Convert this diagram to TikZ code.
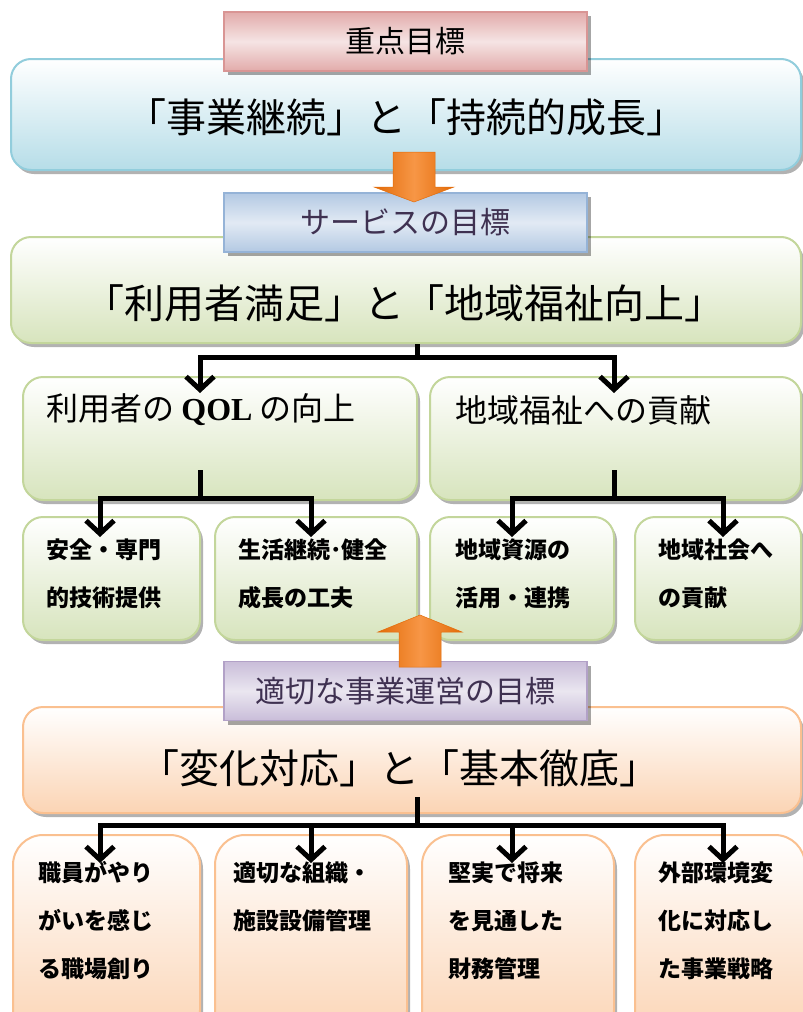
\documentclass[tikz,border=0pt]{standalone}
\usepackage{fontspec}
\setmainfont{Noto Sans CJK JP}
\newfontfamily\latinserif{Liberation Serif}
\usetikzlibrary{arrows.meta,shadows}

\definecolor{pinkbd}{HTML}{D99594}
\definecolor{pinkdk}{HTML}{E2ABAA}
\definecolor{pinklt}{HTML}{F5E4E4}
\definecolor{bluebd}{HTML}{95B3D7}
\definecolor{bluedk}{HTML}{B3C9E3}
\definecolor{bluelt}{HTML}{E2EAF4}
\definecolor{purpbd}{HTML}{B2A1C7}
\definecolor{purpdk}{HTML}{C9BDD9}
\definecolor{purplt}{HTML}{EAE6F0}
\definecolor{titleink}{HTML}{3F3151}
\definecolor{skybd}{HTML}{92CDDC}
\definecolor{skyfill}{HTML}{B6DDE8}
\definecolor{greenbd}{HTML}{C3D69B}
\definecolor{greenfill}{HTML}{D7E4BD}
\definecolor{orangebd}{HTML}{FAC090}
\definecolor{orangefill}{HTML}{FBD4B4}
\definecolor{arrowdk}{HTML}{E36C09}
\definecolor{arrowlt}{HTML}{F79646}

\begin{document}
\begin{tikzpicture}[x=1pt,y=-1pt,
  box/.style={draw,line width=2pt,rounded corners=20pt,
    drop shadow={shadow xshift=3pt,shadow yshift=-4pt,fill=black,opacity=.3}},
  sky box/.style={box,draw=skybd,top color=white,bottom color=skyfill},
  green box/.style={box,draw=greenbd,top color=white,bottom color=greenfill},
  orange box/.style={box,draw=orangebd,top color=white,bottom color=orangefill},
  title node/.style={draw,line width=1.5pt,minimum width=363pt,minimum height=59pt,
    font=\fontsize{30}{32}\selectfont,text=titleink,
    drop shadow={shadow xshift=4pt,shadow yshift=-4pt,fill=black,opacity=.35}},
  big text/.style={inner sep=0pt,font=\fontsize{40}{44}\selectfont},
  mid text/.style={anchor=west,inner sep=0pt,font=\fontsize{32}{36}\selectfont},
  small text/.style={anchor=west,inner sep=0pt,align=left,
    font=\bfseries\fontsize{23}{48}\selectfont},
  tree line/.style={line width=5pt},
  tree arrow/.style={line width=5pt,-{Straight Barb[length=13pt,width=28pt]}},
  block arrow/.style={left color=arrowdk,right color=arrowdk,middle color=arrowlt,
    draw=arrowdk,line width=.5pt}]

  \useasboundingbox (0,0) rectangle (803,1012);
  \clip (0,0) rectangle (803,1012);
  \fill[white] (0,0) rectangle (803,1012);

  % key goal
  \node[sky box,minimum width=790pt,minimum height=111pt] (big1) at (406,114.5) {};
  \node[big text] (t1) at (406,117) {「事業継続」と「持続的成長」};
  \node[title node,draw=pinkbd,top color=pinkdk,bottom color=pinkdk,middle color=pinklt,
    text=black] (title1) at (405.5,41.5) {重点目標};

  % service goal
  \node[green box,minimum width=790pt,minimum height=106pt] (big2) at (406,290) {};
  \node[big text] (t2) at (404,303) {「利用者満足」と「地域福祉向上」};
  \node[title node,draw=bluebd,top color=bluedk,bottom color=bluedk,middle color=bluelt]
    (title2) at (405.5,222.5) {サービスの目標};

  \coordinate (d) at (414,152);
  \path[block arrow] (d) ++(-21,0) -- ++(42,0) -- ++(0,35) -- ++(19,0) -- ++(-40,15)
    -- ++(-40,-15) -- ++(19,0) -- cycle;

  \node[green box,minimum width=394pt,minimum height=123pt] (mL) at (220,438.5) {};
  \node[green box,minimum width=371pt,minimum height=123pt] (mR) at (615.5,438.5) {};
  \node[mid text] (tL) at (46,410) {利用者の {\latinserif\bfseries QOL} の向上};
  \node[mid text] (tR) at (455,410) {地域福祉への貢献};

  \node[green box,minimum width=177pt,minimum height=123pt] (s1) at (111.5,578.5) {};
  \node[green box,minimum width=202pt,minimum height=123pt] (s2) at (316,578.5) {};
  \node[green box,minimum width=184pt,minimum height=123pt] (s3) at (522,578.5) {};
  \node[green box,minimum width=166pt,minimum height=123pt] (s4) at (718,578.5) {};
  \node[small text] (ts1) at (46,574) {安全・専門\\的技術提供};
  \node[small text] (ts2) at (238,574) {生活継続･健全\\成長の工夫};
  \node[small text] (ts3) at (455,574) {地域資源の\\活用・連携};
  \node[small text] (ts4) at (658,574) {地域社会へ\\の貢献};

  \coordinate (j1) at (417,357);
  \coordinate (e1) at (200,393);
  \coordinate (e2) at (614,393);
  \draw[tree line] (big2.south -| j1) -- (j1);
  \draw[tree arrow] (j1) -| (e1);
  \draw[tree arrow] (j1) -| (e2);

  \coordinate (k2) at (200,470);
  \coordinate (j2) at (200,498);
  \coordinate (e3) at (100,537);
  \coordinate (e4) at (311,537);
  \draw[tree line] (k2) -- (j2);
  \draw[tree arrow] (j2) -| (e3);
  \draw[tree arrow] (j2) -| (e4);

  \coordinate (k3) at (614,470);
  \coordinate (j3) at (614,498);
  \coordinate (e5) at (512,537);
  \coordinate (e6) at (723,537);
  \draw[tree line] (k3) -- (j3);
  \draw[tree arrow] (j3) -| (e5);
  \draw[tree arrow] (j3) -| (e6);

  % management goal
  \node[orange box,minimum width=778pt,minimum height=106pt] (big3) at (412,760) {};
  \node[big text] (t3) at (399,768) {「変化対応」と「基本徹底」};
  \node[title node,draw=purpbd,top color=purpdk,bottom color=purpdk,middle color=purplt]
    (title3) at (405.5,691) {適切な事業運営の目標};

  \coordinate (u) at (420,667);
  \path[block arrow] (u) ++(-21,0) -- ++(42,0) -- ++(0,-35) -- ++(21,0) -- ++(-42,-17)
    -- ++(-42,17) -- ++(21,0) -- cycle;

  \node[orange box,rounded corners=30pt,minimum width=187pt,minimum height=205pt] (b1) at (106.5,937.5) {};
  \node[orange box,rounded corners=30pt,minimum width=192pt,minimum height=205pt] (b2) at (311,937.5) {};
  \node[orange box,rounded corners=30pt,minimum width=192pt,minimum height=205pt] (b3) at (518,937.5) {};
  \node[orange box,rounded corners=30pt,minimum width=170pt,minimum height=205pt] (b4) at (720,937.5) {};
  \node[small text] (tb1) at (38,921) {職員がやり\\がいを感じ\\る職場創り};
  \node[small text] (tb2) at (233,897) {適切な組織・\\施設設備管理};
  \node[small text] (tb3) at (448,921) {堅実で将来\\を見通した\\財務管理};
  \node[small text] (tb4) at (658,921) {外部環境変\\化に対応し\\た事業戦略};

  \coordinate (k4) at (417,797);
  \coordinate (j4) at (417,825);
  \coordinate (f1) at (100,863);
  \coordinate (f2) at (311,863);
  \coordinate (f3) at (512,863);
  \coordinate (f4) at (723,863);
  \draw[tree line] (k4) -- (j4);
  \draw[tree arrow] (j4) -| (f1);
  \draw[tree arrow] (j4) -| (f2);
  \draw[tree arrow] (j4) -| (f3);
  \draw[tree arrow] (j4) -| (f4);
\end{tikzpicture}
\end{document}
